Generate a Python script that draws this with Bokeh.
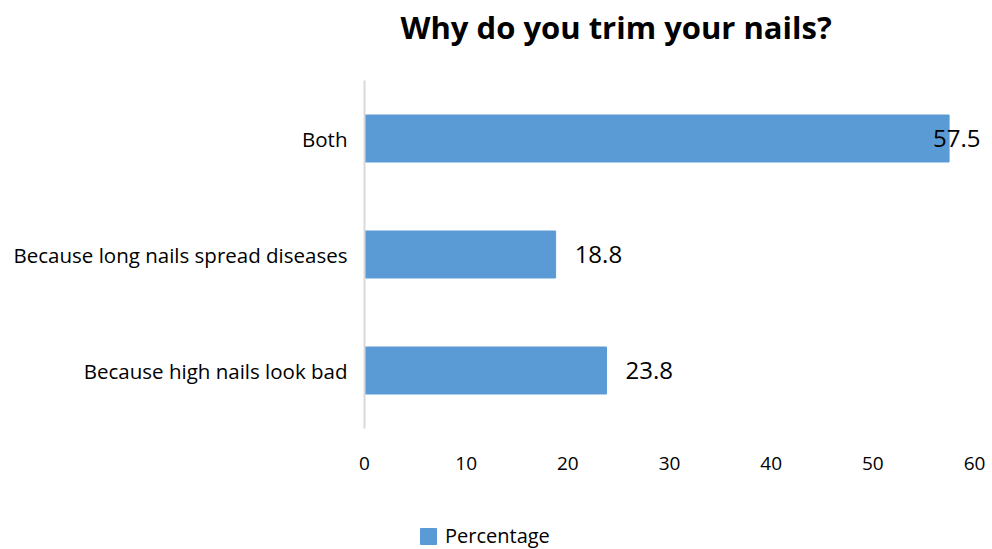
from bokeh.plotting import figure
from bokeh.layouts import column
from bokeh.models import ColumnDataSource, FactorRange, Range1d, Legend, LegendItem, FixedTicker, Label
from bokeh.embed import file_html
from bokeh.resources import INLINE

categories = ["Because high nails look bad", "Because long nails spread diseases", "Both"]
values = [23.8, 18.8, 57.5]
labels = ["23.8", "18.8", "57.5"]
x_ticks = [0, 10, 20, 30, 40, 50, 60]
series_name = "Percentage"
title_text = "Why do you trim your nails?"

FONT = "Open Sans"
BAR = "#5b9bd5"
W = 992
LEFT, RIGHT_AXIS_END = 364, 974

offsets = [19 if v < 50 else -16 for v in values]
src = ColumnDataSource(dict(cat=categories, val=values, lab=labels, off=offsets))

# title strip
top = figure(width=W, height=80, x_range=Range1d(0, 1), y_range=Range1d(0, 1),
             output_backend="svg", toolbar_location=None,
             min_border_left=LEFT, min_border_right=0, min_border_top=0, min_border_bottom=0)
top.axis.visible = False
top.grid.visible = False
top.outline_line_color = None
top.add_layout(Label(x=36, y=54, x_units="screen", y_units="screen", text=title_text,
                     text_font=FONT, text_font_style="bold", text_font_size="31px",
                     text_color="#000000", text_baseline="alphabetic", text_align="left"))

# main chart
x_max = max(x_ticks) * (W - LEFT) / (RIGHT_AXIS_END - LEFT)
p = figure(width=W, height=410, y_range=FactorRange(factors=categories),
           x_range=Range1d(0, x_max), output_backend="svg", toolbar_location=None,
           min_border_left=LEFT, min_border_right=0, min_border_top=0, min_border_bottom=62)

r = p.hbar(y="cat", right="val", left=0, height=0.405, color=BAR, source=src)
p.text(x="val", y="cat", text="lab", x_offset="off", source=src, text_align="left",
       text_baseline="middle", text_font_size="24px", text_color="#000000",
       text_font={"value": FONT})

p.xgrid.visible = False
p.ygrid.visible = False
p.outline_line_color = None

p.xaxis.ticker = FixedTicker(ticks=x_ticks)
p.xaxis.axis_line_color = None
p.xaxis.major_tick_line_color = None
p.xaxis.minor_tick_line_color = None
p.xaxis.major_label_text_font = FONT
p.xaxis.major_label_text_font_size = "19px"
p.xaxis.major_label_text_color = "#000000"
p.xaxis.major_label_standoff = 22

p.yaxis.axis_line_color = "#d9d9d9"
p.yaxis.axis_line_width = 2
p.yaxis.major_tick_line_color = None
p.yaxis.minor_tick_line_color = None
p.yaxis.major_label_text_font = FONT
p.yaxis.major_label_text_font_size = "20.5px"
p.yaxis.major_label_text_color = "#000000"
p.yaxis.major_label_standoff = 11

# legend strip
p2 = figure(width=W, height=59, x_range=Range1d(0, 1), y_range=Range1d(0, 1),
            output_backend="svg", toolbar_location=None,
            min_border_left=LEFT, min_border_right=0, min_border_top=0, min_border_bottom=0)
p2.axis.visible = False
p2.grid.visible = False
p2.outline_line_color = None
dummy = p2.hbar(y=[5], right=[5], left=[4], height=0.4, color=BAR)

legend = Legend(items=[LegendItem(label=series_name, renderers=[dummy])],
                location=(54, 0), orientation="horizontal",
                padding=0, margin=0, spacing=0, glyph_width=20, glyph_height=20,
                label_standoff=7, label_text_font=FONT, label_text_font_size="20px",
                label_text_color="#000000", border_line_color=None,
                background_fill_alpha=0)
p2.add_layout(legend, "center")

layout = column(top, p, p2, spacing=0)
open("out.html", "w").write(file_html(layout, INLINE))
